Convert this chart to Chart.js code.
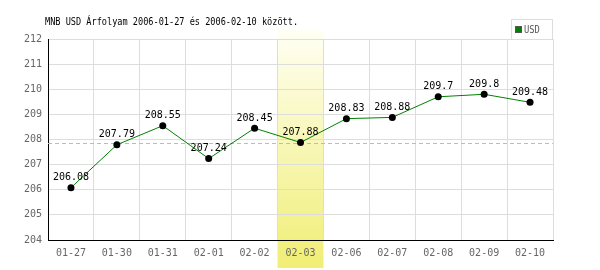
<!DOCTYPE html>
<html>
<head>
<meta charset="utf-8">
<script src="https://cdn.jsdelivr.net/npm/chart.js@4"></script>
<style>
  html, body { margin: 0; padding: 0; background: #fff; }
  #wrap { width: 600px; height: 270px; }
</style>
</head>
<body>
<div id="wrap"><canvas id="rateChart" width="600" height="270"></canvas></div>
<script>
const labels = ['01-27', '01-30', '01-31', '02-01', '02-02', '02-03', '02-06', '02-07', '02-08', '02-09', '02-10'];
const usdRates = [206.08, 207.79, 208.55, 207.24, 208.45, 207.88, 208.83, 208.88, 209.7, 209.8, 209.48];
const highlightIndex = [5];
const refLine = [207.88];
const yRange = [204, 212];

const mono = '"DejaVu Sans Mono", monospace';

// extra drawing: title, legend box, highlighted day, reference line, value labels
const extras = {
  id: 'extras',
  beforeDraw(chart) {
    const ctx = chart.ctx;
    const x = chart.scales.x;
    const i = highlightIndex[0];
    const half = (x.getPixelForValue(1) - x.getPixelForValue(0)) / 2;
    const left = x.getPixelForValue(i) - half;
    const grad = ctx.createLinearGradient(0, 30, 0, 268);
    grad.addColorStop(0, '#fffff4');
    grad.addColorStop(1, '#f0ee74');
    ctx.save();
    ctx.fillStyle = grad;
    ctx.fillRect(left, 30, half * 2, 238);
    ctx.restore();
  },
  beforeDatasetsDraw(chart) {
    const ctx = chart.ctx;
    const area = chart.chartArea;
    const y = chart.scales.y.getPixelForValue(refLine[0]);
    ctx.save();
    ctx.strokeStyle = '#a8c8a8';
    ctx.lineWidth = 1;
    ctx.setLineDash([4, 3]);
    ctx.beginPath();
    ctx.moveTo(area.left, Math.round(y) + 0.5);
    ctx.lineTo(area.right, Math.round(y) + 0.5);
    ctx.stroke();
    ctx.restore();
  },
  afterDatasetsDraw(chart) {
    const ctx = chart.ctx;
    const meta = chart.getDatasetMeta(0);
    ctx.save();
    ctx.fillStyle = '#000';
    ctx.font = '10px ' + mono;
    ctx.textAlign = 'center';
    ctx.textBaseline = 'middle';
    meta.data.forEach((pt, i) => {
      ctx.fillText(String(usdRates[i]), pt.x, pt.y - 10);
    });
    ctx.restore();
  },
  afterDraw(chart) {
    const ctx = chart.ctx;
    ctx.save();
    // title (narrow monospace look)
    ctx.save();
    ctx.translate(45, 22);
    ctx.scale(0.78, 1);
    ctx.fillStyle = '#000';
    ctx.font = '11px ' + mono;
    ctx.textAlign = 'left';
    ctx.textBaseline = 'middle';
    ctx.fillText('MNB USD Árfolyam 2006-01-27 és 2006-02-10 között.', 0, 0);
    ctx.restore();
    // legend
    ctx.fillStyle = '#fff';
    ctx.fillRect(511, 19, 41, 20);
    ctx.strokeStyle = '#dddddd';
    ctx.lineWidth = 1;
    ctx.strokeRect(511.5, 19.5, 41, 20);
    ctx.fillStyle = '#008000';
    ctx.fillRect(515, 26, 6, 6);
    ctx.strokeStyle = '#555';
    ctx.strokeRect(515.5, 26.5, 6, 6);
    ctx.save();
    ctx.translate(524, 30);
    ctx.scale(0.8, 1);
    ctx.fillStyle = '#555';
    ctx.font = '11px ' + mono;
    ctx.textBaseline = 'middle';
    ctx.fillText('USD', 0, 0);
    ctx.restore();
    ctx.restore();
  }
};

new Chart(document.getElementById('rateChart').getContext('2d'), {
  type: 'line',
  data: {
    labels: labels,
    datasets: [{
      label: 'USD',
      data: usdRates,
      borderColor: '#008000',
      borderWidth: 1,
      pointRadius: 3.5,
      pointBackgroundColor: '#000',
      pointBorderColor: '#000',
      pointBorderWidth: 0,
      tension: 0
    }]
  },
  options: {
    responsive: false,
    animation: false,
    layout: { padding: { left: 0, top: 39, right: 47, bottom: 0 } },
    plugins: {
      legend: { display: false },
      tooltip: { enabled: false }
    },
    scales: {
      x: {
        offset: true,
        grid: { offset: true, color: '#dddddd', drawTicks: false },
        border: { color: '#000', width: 1 },
        ticks: { color: '#666', font: { family: mono, size: 10 }, padding: 7, maxRotation: 0 },
        afterFit(scale) { scale.height = 30; }
      },
      y: {
        min: yRange[0],
        max: yRange[1],
        grid: { color: '#dddddd', drawTicks: false },
        border: { color: '#000', width: 1 },
        ticks: { stepSize: 1, color: '#666', font: { family: mono, size: 10 }, padding: 6 },
        afterFit(scale) { scale.width = 48; }
      }
    }
  },
  plugins: [extras]
});
</script>
</body>
</html>
